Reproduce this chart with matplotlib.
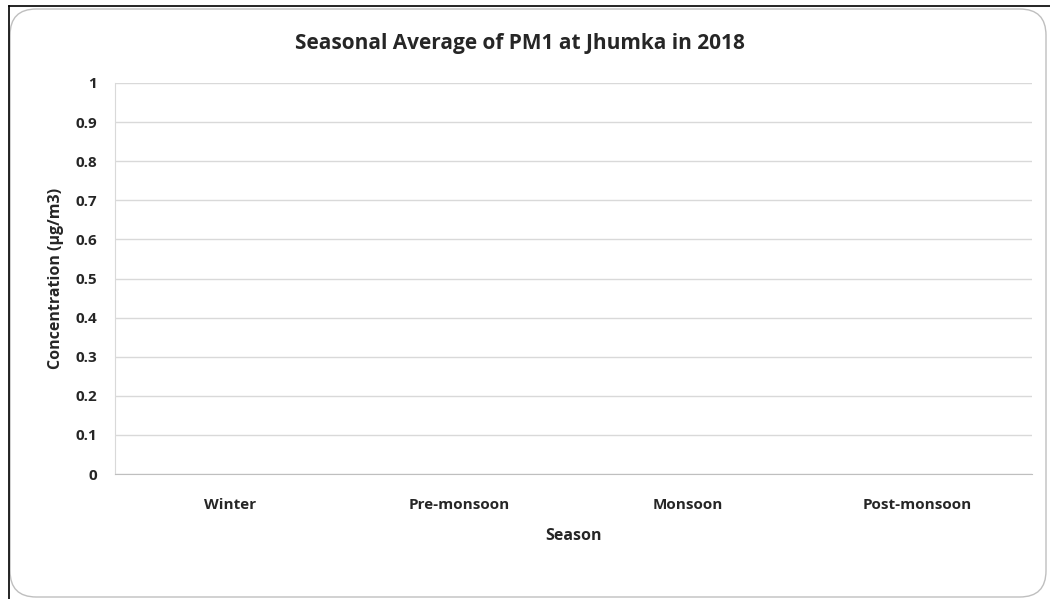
import matplotlib.pyplot as plt
from matplotlib.patches import FancyBboxPatch
from matplotlib.lines import Line2D

# Data
seasons = ['Winter', 'Pre-monsoon', 'Monsoon', 'Post-monsoon']
pm1_values = [0, 0, 0, 0]  # no data plotted in the reference
y_ticks = [0, 0.1, 0.2, 0.3, 0.4, 0.5, 0.6, 0.7, 0.8, 0.9, 1]

plt.rcParams['font.family'] = ['Open Sans', 'DejaVu Sans']

W, H = 1050, 599
fig = plt.figure(figsize=(W / 100, H / 100), dpi=100)
fig.patch.set_facecolor('white')

# chart border (rounded) and outer black frame lines
box = FancyBboxPatch((10 / W, 2 / H), 1036 / W, 588 / H,
                     boxstyle='round,pad=0,rounding_size=0.025',
                     transform=fig.transFigure, facecolor='white',
                     edgecolor='#bfbfbf', linewidth=1.0, mutation_aspect=W / H,
                     zorder=-10)
fig.patches.append(box)
fig.add_artist(Line2D([8.5 / W, 8.5 / W], [0, 1 - 6 / H], transform=fig.transFigure,
                      color='black', linewidth=1.2))
fig.add_artist(Line2D([8.5 / W, 1], [1 - 6 / H, 1 - 6 / H], transform=fig.transFigure,
                      color='black', linewidth=1.2))

left, right, top, bottom = 115, 1032, 83, 474
ax = fig.add_axes([left / W, 1 - bottom / H, (right - left) / W, (bottom - top) / H])
ax.set_facecolor('none')
ax.set_zorder(5)

x = range(len(seasons))
ax.bar(x, pm1_values, width=0.5, color='#4472c4')

tick_font = dict(fontsize=11, fontweight='bold', color='#262626')
ax.set_xlim(-0.5, len(seasons) - 0.5)
ax.set_ylim(0, 1)
ax.set_yticks(y_ticks)
ax.set_yticklabels([f'{v:g}' for v in y_ticks], **tick_font)
ax.set_xticks(list(x))
ax.set_xticklabels(seasons, **tick_font)
ax.tick_params(axis='y', length=0, pad=13)
ax.tick_params(axis='x', length=0, pad=17)

ax.grid(axis='y', color='#d9d9d9', linewidth=1.0)
ax.set_axisbelow(True)
for side in ['top', 'right']:
    ax.spines[side].set_visible(False)
ax.spines['left'].set_color('#d9d9d9')
ax.spines['bottom'].set_color('#bfbfbf')

ax.set_xlabel('Season', fontsize=11.5, fontweight='bold', color='#262626', labelpad=12)
ax.set_ylabel('Concentration (µg/m3)', fontsize=11.5, fontweight='bold', color='#262626', labelpad=8)
fig.text(520 / W, 1 - 43 / H, 'Seasonal Average of PM1 at Jhumka in 2018',
         ha='center', va='center', fontsize=15, fontweight='bold', color='#262626')

fig.savefig('out.png', dpi=100)
